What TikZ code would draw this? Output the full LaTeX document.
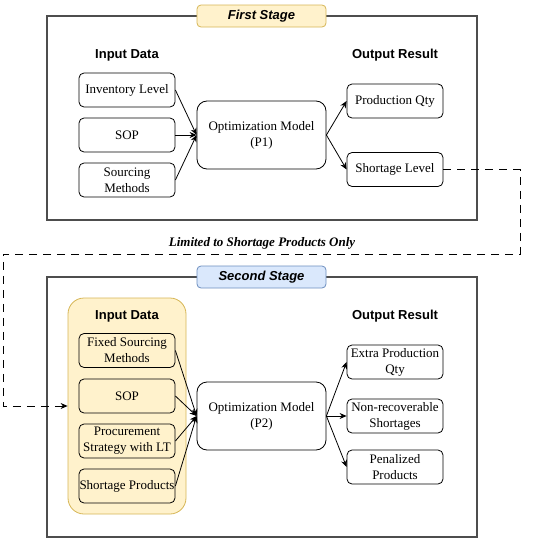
\documentclass[tikz,border=0pt]{standalone}
\usepackage{fontspec}
\setmainfont{Liberation Serif}
\newfontfamily\headfont{Liberation Sans}
\usetikzlibrary{arrows.meta}
\definecolor{ylwfill}{HTML}{FFF2CC}
\definecolor{ylwline}{HTML}{D6B656}
\definecolor{bluefill}{HTML}{DAE8FC}
\definecolor{blueline}{HTML}{6C8EBF}
\definecolor{frameline}{HTML}{4D4D4D}
\begin{document}
\begin{tikzpicture}[x=1pt,y=-1pt,
  stageframe/.style={draw=frameline,line width=1.2pt},
  stagelabel/.style={rounded corners=4pt,line width=0.8pt,minimum width=129pt,minimum height=22pt,inner sep=0pt,font=\headfont\bfseries\itshape\fontsize{13}{15}\selectfont},
  heading/.style={font=\headfont\bfseries\fontsize{13}{15}\selectfont,inner sep=0pt},
  databox/.style={draw,rounded corners=5pt,line width=0.8pt,minimum width=96pt,minimum height=34pt,inner sep=0pt,align=center,font=\fontsize{13}{16}\selectfont},
  modelbox/.style={draw,rounded corners=10pt,line width=0.8pt,minimum width=129pt,minimum height=68pt,inner sep=1pt,align=center,font=\fontsize{13}{16}\selectfont},
  flow/.style={-{Stealth[length=7pt,width=6pt]},line width=0.8pt},
  link/.style={-{Stealth[length=7pt,width=6pt]},line width=0.8pt,dash pattern=on 8pt off 6pt}
]
\useasboundingbox (0,0) rectangle (550,541);
% frames
\node[stageframe,minimum width=430pt,minimum height=204pt,inner sep=0pt] (f1) at (262,118) {};
\node[stageframe,minimum width=430pt,minimum height=260pt,inner sep=0pt] (f2) at (262,407) {};
\node[stagelabel,draw=ylwline,fill=ylwfill] (s1) at (261.5,16) {First Stage};
\node[stagelabel,draw=blueline,fill=bluefill] (s2) at (261.5,277) {Second Stage};
% first stage
\node[heading] (h1) at (127,55) {Input Data};
\node[heading] (o1) at (395,55) {Output Result};
\node[databox] (inv) at (127,90) {Inventory Level};
\node[databox] (sop1) at (127,135) {SOP};
\node[databox] (src) at (127,180) {Sourcing\\Methods};
\node[modelbox] (m1) at (261.5,135) {Optimization Model\\(P1)};
\node[databox] (prod) at (395,101) {Production Qty};
\node[databox] (short) at (395,169.5) {Shortage Level};
\draw[flow] (inv.east) -- (m1.west);
\draw[flow] (sop1.east) -- (m1.west);
\draw[flow] (src.east) -- (m1.west);
\draw[flow] (m1.east) -- (prod.west);
\draw[flow] (m1.east) -- (short.west);
% second stage
\node[draw=ylwline,fill=ylwfill,rounded corners=16pt,line width=0.8pt,minimum width=118pt,minimum height=216pt,inner sep=0pt] (grp) at (127,406) {};
\node[heading] (h2) at (127,316) {Input Data};
\node[heading] (o2) at (395,316) {Output Result};
\node[databox] (fix) at (127,350.5) {Fixed Sourcing\\Methods};
\node[databox] (sop2) at (127,396) {SOP};
\node[databox] (proc) at (127,441) {Procurement\\Strategy with LT};
\node[databox] (sprod) at (127,486) {Shortage Products};
\node[modelbox] (m2) at (261.5,416) {Optimization Model\\(P2)};
\node[databox] (extra) at (395,362) {Extra Production\\Qty};
\node[databox] (nonrec) at (395,416) {Non-recoverable\\Shortages};
\node[databox] (pen) at (395,467) {Penalized\\Products};
\draw[flow] (fix.east) -- (m2.west);
\draw[flow] (sop2.east) -- (m2.west);
\draw[flow] (proc.east) -- (m2.west);
\draw[flow] (sprod.east) -- (m2.west);
\draw[flow] (m2.east) -- (extra.west);
\draw[flow] (m2.east) -- (nonrec.west);
\draw[flow] (m2.east) -- (pen.west);
% link between stages
\coordinate (c1) at (520,169.5);
\coordinate (c2) at (520,254);
\coordinate (c3) at (3,254);
\coordinate (c4) at (3,406);
\draw[link] (short.east) -- (c1) -- (c2) -- (c3) -- (c4) -- (grp.west);
\node[font=\bfseries\itshape\fontsize{13}{15}\selectfont,inner sep=0pt] (lim) at (262,243) {Limited to Shortage Products Only};
\end{tikzpicture}
\end{document}
